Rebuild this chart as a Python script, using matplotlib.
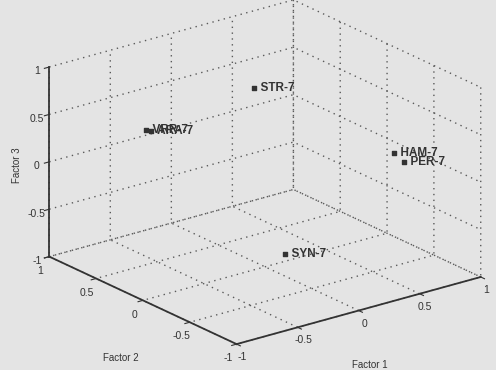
import matplotlib
matplotlib.use("Agg")
import matplotlib.pyplot as plt

plt.rcParams["font.family"] = ["Liberation Sans", "DejaVu Sans"]
plt.rcParams["axes.unicode_minus"] = False

# Factor scores of the samples
labels = ["STR-7", "HAM-7", "PER-7", "SYN-7", "VRR-7", "ARA-7"]
factor1 = [0.14, 0.85, 0.90, -0.20, -0.50, -0.47]
factor2 = [0.30, -0.27, -0.31, -0.47, 0.62, 0.60]
factor3 = [0.70, 0.02, -0.075, -0.58, 0.33, 0.32]

ticks = [-1, -0.5, 0, 0.5, 1]
tick_labels = ["-1", "-0.5", "0", "0.5", "1"]

bg = "#e4e4e4"
ink = "#333333"
W, H = 496, 370
fig = plt.figure(figsize=(W / 100, H / 100), dpi=100, facecolor=bg)
ax = fig.add_axes([12 / W, 8 / H, 1, 1], projection="3d", proj_type="ortho",
                  facecolor=bg)
ax.view_init(elev=21, azim=-127.5)
ax.set_box_aspect((1, 1, 0.66), zoom=1.26)

ax.set_xlim(-1, 1)
ax.set_ylim(-1, 1)
ax.set_zlim(-1, 1)
for axis in (ax.xaxis, ax.yaxis, ax.zaxis):
    axis.set_pane_color((1, 1, 1, 0))
    axis.pane.set_edgecolor((0, 0, 0, 0))
    axis.line.set_color(ink)
    axis.line.set_linewidth(1.3)
    axis._axinfo["grid"].update(color="#5a5a5a", linewidth=1.0,
                                linestyle=(0, (1, 3.2)))
    axis._axinfo["tick"].update(inward_factor=0.25, outward_factor=0.0)
ax.set_xticks(ticks)
ax.set_yticks(ticks)
ax.set_zticks(ticks)
ax.set_xticklabels(tick_labels, fontsize=7.5, color=ink)
ax.set_yticklabels(tick_labels, fontsize=7.5, color=ink)
ax.set_zticklabels(tick_labels, fontsize=7.5, color=ink)
ax.tick_params(axis="both", colors=ink, width=1.0)
ax.xaxis.set_tick_params(pad=-4)
ax.yaxis.set_tick_params(pad=-3)
ax.zaxis.set_tick_params(pad=-4)

# Axis titles, kept horizontal / vertical
fig.text(370 / W, 1 - 365 / H, "Factor 1", fontsize=7, color=ink,
         ha="center", va="center")
fig.text(121 / W, 1 - 358 / H, "Factor 2", fontsize=7, color=ink,
         ha="center", va="center")
fig.text(17 / W, 1 - 165 / H, "Factor 3", fontsize=7, color=ink,
         ha="center", va="center", rotation=90)

ax.scatter(factor1, factor2, factor3, marker="s", s=9, c=ink,
           depthshade=False)
for x, y, z, name in zip(factor1, factor2, factor3, labels):
    ax.text(x, y, z, "  " + name, fontsize=8.5, color=ink,
            fontweight="bold", va="center", ha="left")

fig.savefig("out.png", dpi=100, facecolor=bg)
